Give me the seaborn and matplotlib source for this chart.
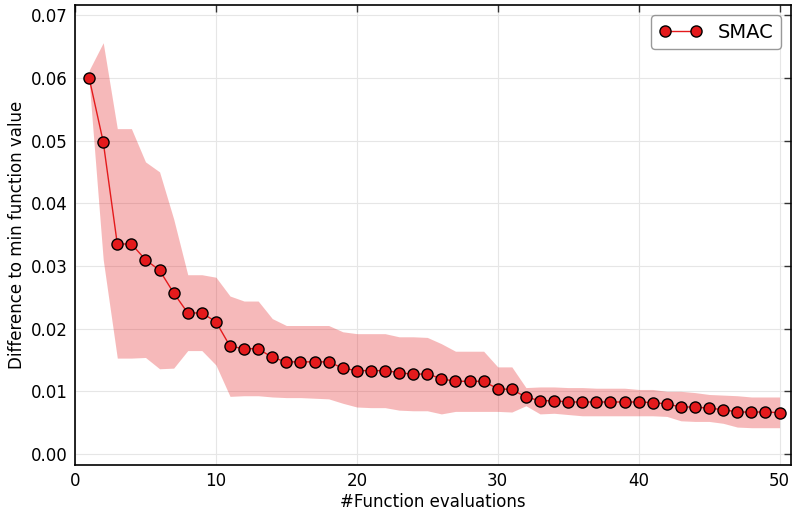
import numpy as np
import pandas as pd
import matplotlib
matplotlib.use("Agg")
import matplotlib.pyplot as plt
import seaborn as sns

evals = list(range(1, 51))
mean_vals = [0.0600, 0.0498, 0.0335, 0.0335, 0.0310, 0.0293, 0.0257, 0.0225, 0.0225, 0.0211,
             0.0172, 0.0168, 0.0168, 0.0154, 0.0147, 0.0147, 0.0147, 0.0147, 0.0137, 0.0133,
             0.0133, 0.0133, 0.0130, 0.0127, 0.0128, 0.0120, 0.0116, 0.0116, 0.0116, 0.0104,
             0.0103, 0.0091, 0.0085, 0.0085, 0.0083, 0.0083, 0.0083, 0.0083, 0.0083, 0.0083,
             0.0082, 0.0080, 0.0075, 0.0075, 0.0073, 0.0071, 0.0067, 0.0067, 0.0067, 0.0066]
upper_vals = [0.0612, 0.0656, 0.0519, 0.0519, 0.0466, 0.0450, 0.0375, 0.0286, 0.0286, 0.0282,
              0.0252, 0.0244, 0.0244, 0.0216, 0.0205, 0.0205, 0.0205, 0.0205, 0.0195, 0.0192,
              0.0192, 0.0192, 0.0187, 0.0187, 0.0186, 0.0176, 0.0164, 0.0164, 0.0164, 0.0139,
              0.0139, 0.0106, 0.0107, 0.0107, 0.0106, 0.0106, 0.0105, 0.0105, 0.0105, 0.0103,
              0.0103, 0.0100, 0.0100, 0.0098, 0.0095, 0.0094, 0.0093, 0.0091, 0.0091, 0.0091]
lower_vals = [0.0595, 0.0310, 0.0153, 0.0153, 0.0154, 0.0136, 0.0137, 0.0165, 0.0165, 0.0142,
              0.0092, 0.0093, 0.0093, 0.0091, 0.0090, 0.0090, 0.0089, 0.0088, 0.0081, 0.0075,
              0.0074, 0.0074, 0.0070, 0.0069, 0.0069, 0.0064, 0.0068, 0.0068, 0.0068, 0.0068,
              0.0067, 0.0077, 0.0064, 0.0065, 0.0063, 0.0061, 0.0061, 0.0061, 0.0061, 0.0061,
              0.0061, 0.0060, 0.0053, 0.0052, 0.0052, 0.0049, 0.0043, 0.0042, 0.0042, 0.0042]

df = pd.DataFrame({"evals": evals, "mean": mean_vals, "lo": lower_vals, "hi": upper_vals})

sns.set_theme(style="whitegrid")
plt.rcParams['font.family'] = ['DejaVu Sans']
plt.rcParams['text.color'] = 'black'
plt.rcParams['axes.labelcolor'] = 'black'
plt.rcParams['xtick.color'] = 'black'
plt.rcParams['ytick.color'] = 'black'

fig = plt.figure(figsize=(7.94, 5.11), dpi=100)
ax = fig.add_axes([0.0945, 0.090, 0.9015, 0.900])

red = "#e41a1c"
ax.fill_between(df["evals"], df["lo"], df["hi"], color=red, alpha=0.3, linewidth=0, zorder=1)
sns.lineplot(data=df, x="evals", y="mean", ax=ax, color=red, linewidth=1.0,
             marker="o", markersize=8, markerfacecolor=red, markeredgecolor="black",
             markeredgewidth=1.0, label="SMAC", zorder=3)

ax.set_xlim(0, 50.8)
ax.set_ylim(-0.00175, 0.0716)
ax.set_xticks([0, 10, 20, 30, 40, 50])
ax.set_yticks([0.00, 0.01, 0.02, 0.03, 0.04, 0.05, 0.06, 0.07])
ax.set_yticklabels([f"{v:.2f}" for v in [0.00, 0.01, 0.02, 0.03, 0.04, 0.05, 0.06, 0.07]])
ax.set_xlabel("#Function evaluations", fontsize=12, labelpad=2)
ax.set_ylabel("Difference to min function value", fontsize=12, labelpad=4)

ax.set_facecolor("white")
ax.grid(True, color="#e6e6e6", linewidth=0.8)
for s in ax.spines.values():
    s.set_color("black")
    s.set_linewidth(1.2)
ax.tick_params(direction="in", length=5, width=1, color="#333333", labelcolor="black",
               top=True, right=True, labelsize=12, pad=5)

leg = ax.legend(loc="upper right", fontsize=14, numpoints=2, frameon=True, fancybox=True,
                edgecolor="#808080", handlelength=2.2, borderpad=0.4)
leg.get_frame().set_linewidth(1.0)
for t in leg.get_texts():
    t.set_color("black")

fig.savefig("out.png", dpi=100)
